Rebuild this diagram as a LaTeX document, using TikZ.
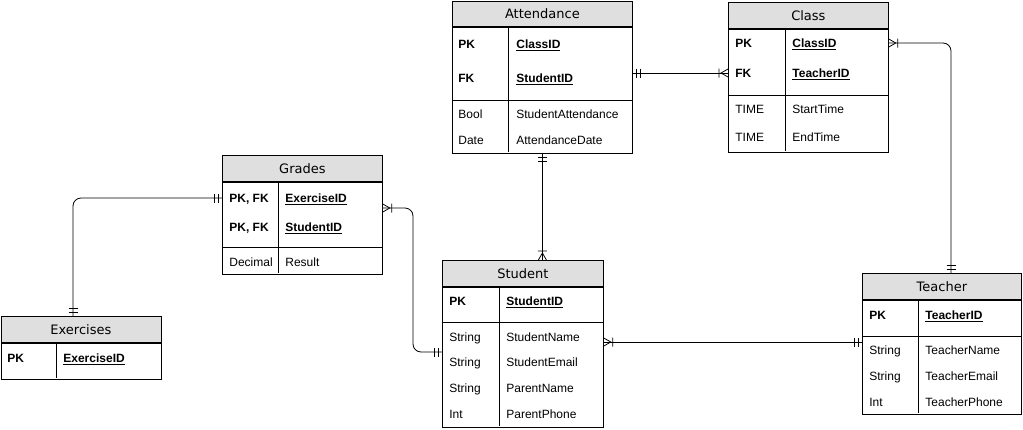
\documentclass[tikz,border=0pt]{standalone}
\usepackage{fontspec}
\setmainfont{Liberation Sans}
\newfontfamily\headfont{DejaVu Sans}
\usepackage{tikz}
\usetikzlibrary{calc}

% ER end marks
\pgfdeclarearrow{
  name = onlyone,
  setup code = {
    \pgfarrowssettipend{0pt}
    \pgfarrowssetlineend{0pt}
    \pgfarrowssetbackend{-9pt}
    \pgfarrowshullpoint{0pt}{4.5pt}
    \pgfarrowshullpoint{-9pt}{-4.5pt}
  },
  drawing code = {
    \pgfpathmoveto{\pgfqpoint{-4pt}{-4.5pt}}
    \pgfpathlineto{\pgfqpoint{-4pt}{4.5pt}}
    \pgfpathmoveto{\pgfqpoint{-8pt}{-4.5pt}}
    \pgfpathlineto{\pgfqpoint{-8pt}{4.5pt}}
    \pgfusepathqstroke
  }
}
\pgfdeclarearrow{
  name = onemany,
  setup code = {
    \pgfarrowssettipend{0pt}
    \pgfarrowssetlineend{0pt}
    \pgfarrowssetbackend{-9pt}
    \pgfarrowshullpoint{0pt}{4.5pt}
    \pgfarrowshullpoint{-9pt}{-4.5pt}
  },
  drawing code = {
    \pgfpathmoveto{\pgfqpoint{0pt}{4pt}}
    \pgfpathlineto{\pgfqpoint{-7pt}{0pt}}
    \pgfpathlineto{\pgfqpoint{0pt}{-4pt}}
    \pgfpathmoveto{\pgfqpoint{-9pt}{-4.5pt}}
    \pgfpathlineto{\pgfqpoint{-9pt}{4.5pt}}
    \pgfusepathqstroke
  }
}

\begin{document}
\begin{tikzpicture}[x=1pt, y=-1pt, line width=0.8pt]
% Styles
\tikzstyle{tabhead} = [rectangle, draw=black, fill=gray!25, anchor=north west, inner sep=0pt, text height=9.5pt, text depth=0pt, font=\headfont\fontsize{13}{15}\selectfont]
\tikzstyle{tabbody} = [rectangle, draw=black, anchor=north west, inner sep=0pt]
\tikzstyle{keytxt} = [anchor=west, inner sep=0pt, text height=8.6pt, text depth=0pt, font=\fontsize{12}{14}\selectfont\bfseries]
\tikzstyle{attrtxt} = [anchor=west, inner sep=0pt, text height=8.6pt, text depth=0pt, font=\fontsize{12}{14}\selectfont]
\tikzstyle{rel} = [line width=0.8pt, rounded corners=8pt]

\useasboundingbox (0,0) rectangle (1023,429);

% Attendance
\node (attendance) [tabhead, minimum width=180pt, minimum height=25pt] at (452,1) {Attendance};
\node (attendance_body) [tabbody, minimum width=180pt, minimum height=126pt] at (attendance.south west) {};
\draw (508,26) -- (508,152);
\draw (452,100) -- (632,100);
\node (att_pk) [keytxt] at (458,44) {PK};
\node (att_cid) [keytxt] at (516,44) {\underline{ClassID}};
\node (att_fk) [keytxt] at (458,78) {FK};
\node (att_sid) [keytxt] at (516,78) {\underline{StudentID}};
\node (att_bool) [attrtxt] at (458,114) {Bool};
\node (att_satt) [attrtxt] at (516,114) {StudentAttendance};
\node (att_date) [attrtxt] at (458,140) {Date};
\node (att_adate) [attrtxt] at (516,140) {AttendanceDate};

% Class
\node (class) [tabhead, minimum width=160pt, minimum height=26pt] at (728,2) {Class};
\node (class_body) [tabbody, minimum width=160pt, minimum height=123pt] at (class.south west) {};
\draw (785,28) -- (785,151);
\draw (728,95) -- (888,95);
\node (cls_pk) [keytxt] at (735,43) {PK};
\node (cls_cid) [keytxt] at (792,43) {\underline{ClassID}};
\node (cls_fk) [keytxt] at (735,73) {FK};
\node (cls_tid) [keytxt] at (792,73) {\underline{TeacherID}};
\node (cls_t1) [attrtxt] at (735,109) {TIME};
\node (cls_start) [attrtxt] at (792,109) {StartTime};
\node (cls_t2) [attrtxt] at (735,137) {TIME};
\node (cls_end) [attrtxt] at (792,137) {EndTime};

% Grades
\node (grades) [tabhead, minimum width=160pt, minimum height=26pt] at (222,155) {Grades};
\node (grades_body) [tabbody, minimum width=160pt, minimum height=92pt] at (grades.south west) {};
\draw (278,181) -- (278,273);
\draw (222,247) -- (382,247);
\node (grd_k1) [keytxt] at (229,198) {PK, FK};
\node (grd_eid) [keytxt] at (285,198) {\underline{ExerciseID}};
\node (grd_k2) [keytxt] at (229,227) {PK, FK};
\node (grd_sid) [keytxt] at (285,227) {\underline{StudentID}};
\node (grd_dec) [attrtxt] at (229,262) {Decimal};
\node (grd_res) [attrtxt] at (285,262) {Result};

% Exercises
\node (exercises) [tabhead, minimum width=160pt, minimum height=26pt] at (0.5,316) {Exercises};
\node (exercises_body) [tabbody, minimum width=160pt, minimum height=36pt] at (exercises.south west) {};
\draw (56,342) -- (56,378);
\node (ex_pk) [keytxt] at (7,358) {PK};
\node (ex_eid) [keytxt] at (63,358) {\underline{ExerciseID}};

% Student
\node (student) [tabhead, minimum width=161pt, minimum height=26pt] at (442,260) {Student};
\node (student_body) [tabbody, minimum width=161pt, minimum height=140pt] at (student.south west) {};
\draw (499,286) -- (499,426);
\draw (442,322) -- (603,322);
\node (st_pk) [keytxt] at (449,301) {PK};
\node (st_sid) [keytxt] at (506,301) {\underline{StudentID}};
\node (st_s1) [attrtxt] at (449,337) {String};
\node (st_name) [attrtxt] at (506,337) {StudentName};
\node (st_s2) [attrtxt] at (449,362) {String};
\node (st_mail) [attrtxt] at (506,362) {StudentEmail};
\node (st_s3) [attrtxt] at (449,388) {String};
\node (st_pname) [attrtxt] at (506,388) {ParentName};
\node (st_int) [attrtxt] at (449,414) {Int};
\node (st_pphone) [attrtxt] at (506,414) {ParentPhone};

% Teacher
\node (teacher) [tabhead, minimum width=159pt, minimum height=26pt] at (862,273) {Teacher};
\node (teacher_body) [tabbody, minimum width=159pt, minimum height=114pt] at (teacher.south west) {};
\draw (918,299) -- (918,413);
\draw (862,336) -- (1021,336);
\node (tc_pk) [keytxt] at (869,315) {PK};
\node (tc_tid) [keytxt] at (925,315) {\underline{TeacherID}};
\node (tc_s1) [attrtxt] at (869,350) {String};
\node (tc_name) [attrtxt] at (925,350) {TeacherName};
\node (tc_s2) [attrtxt] at (869,376) {String};
\node (tc_mail) [attrtxt] at (925,376) {TeacherEmail};
\node (tc_int) [attrtxt] at (869,402) {Int};
\node (tc_phone) [attrtxt] at (925,402) {TeacherPhone};

% Relations
\coordinate (c2) at (951,43);
\coordinate (c4a) at (413,208);
\coordinate (c4b) at (413,352);
\coordinate (c5) at (73,198);
\coordinate (c6) at (0,342);

\draw [rel, onlyone-onemany] (attendance_body.east |- cls_fk) -- (class_body.west |- cls_fk);
\draw [rel, onemany-onlyone] (class_body.east |- c2) -- (c2) -- (c2 |- teacher.north);
\draw [rel, onlyone-onemany] (attendance_body.south) -- (attendance_body.south |- student.north);
\draw [rel, onemany-onlyone] (grades_body.east |- c4a) -- (c4a) -- (c4b) -- (student_body.west |- c4b);
\draw [rel, onlyone-onlyone] (exercises.north -| c5) -- (c5) -- (grades_body.west |- grd_eid);
\draw [rel, onemany-onlyone] (student_body.east |- c6) -- (teacher_body.west |- c6);

\end{tikzpicture}
\end{document}
